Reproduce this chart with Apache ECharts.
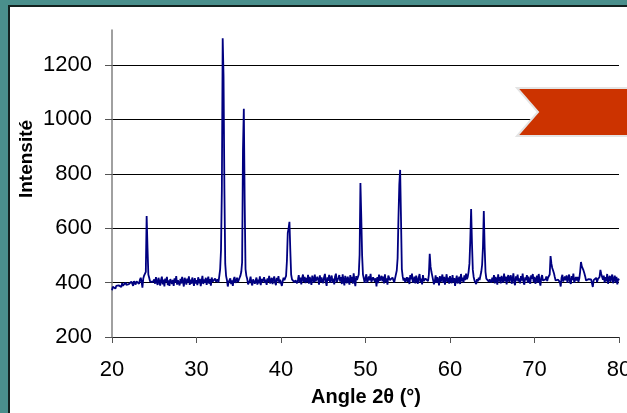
<!DOCTYPE html>
<html>
<head>
<meta charset="utf-8">
<script src="https://cdn.jsdelivr.net/npm/echarts@6/dist/echarts.min.js"></script>
<style>html,body{margin:0;padding:0;background:#4a8f8c;}#c{width:627px;height:413px;}</style>
</head>
<body>
<div id="c"></div>
<script>
// X-ray diffraction pattern: intensity recorded from 20° every 0.1° (2θ)
const startAngle = 20;
const stepAngle = 0.1;
const intensity = [
/*20*/ 372,385,380,392,378,388,395,383,390,386,
/*21*/ 393,384,398,389,396,385,400,392,387,399,
/*22*/ 395,402,391,404,397,388,406,399,393,405,
/*23*/ 398,407,396,410,418,404,382,415,426,422,
/*24*/ 440,645,530,430,418,405,398,412,402,395,
/*25*/ 412,396,420,401,392,418,405,389,410,422,
/*26*/ 394,411,386,415,402,421,391,408,388,413,
/*27*/ 419,395,410,388,416,400,424,393,409,398,
/*28*/ 390,414,397,421,403,386,418,406,393,415,
/*29*/ 400,423,392,411,396,419,404,388,417,397,
/*30*/ 409,391,420,398,414,387,406,425,395,412,
/*31*/ 400,418,392,409,422,396,413,389,419,404,
/*32*/ 409,397,415,404,398,412,401,425,450,520,
/*33*/ 740,1300,1160,750,470,425,410,386,402,395,
/*34*/ 416,395,408,388,412,421,399,393,418,402,
/*35*/ 409,418,426,440,475,890,1040,705,450,425,
/*36*/ 414,394,388,407,422,399,390,412,417,396,
/*37*/ 408,419,393,411,398,423,391,414,402,396,
/*38*/ 420,399,411,392,416,403,425,397,409,418,
/*39*/ 395,412,423,400,391,418,405,424,398,411,
/*40*/ 412,388,405,418,409,414,425,480,583,600,
/*41*/ 624,520,430,412,405,418,401,409,415,398,
/*42*/ 410,428,400,419,394,416,430,403,421,398,
/*43*/ 418,402,429,396,421,408,392,426,413,400,
/*44*/ 430,404,397,422,411,393,427,401,419,406,
/*45*/ 398,421,432,403,388,420,407,429,399,415,
/*46*/ 426,400,415,394,423,433,402,397,418,428,
/*47*/ 404,420,395,431,406,390,425,412,398,422,
/*48*/ 415,393,428,403,421,396,434,405,387,424,
/*49*/ 410,405,430,502,767,642,500,430,415,399,
/*50*/ 418,431,400,394,423,409,432,403,397,420,
/*51*/ 427,404,416,386,421,398,430,407,401,425,
/*52*/ 405,422,397,431,402,416,393,426,433,409,
/*53*/ 414,403,419,409,401,416,422,445,490,638,
/*54*/ 760,815,638,450,423,408,417,401,412,420,
/*55*/ 403,419,395,428,412,433,400,408,422,397,
/*56*/ 426,410,396,419,432,401,415,394,428,406,
/*57*/ 401,415,411,420,406,430,506,459,440,425,
/*58*/ 418,394,406,427,399,420,411,390,424,402,
/*59*/ 415,430,399,421,393,412,431,403,419,396,
/*60*/ 424,406,398,428,401,417,388,410,426,397,
/*61*/ 412,422,395,432,405,418,400,427,409,433,
/*62*/ 413,421,440,470,557,671,545,447,421,408,
/*63*/ 401,395,413,405,418,410,415,440,465,531,
/*64*/ 664,531,440,415,408,421,404,412,418,400,
/*65*/ 418,403,428,397,421,410,393,431,404,420,
/*66*/ 397,425,411,400,433,405,422,394,416,428,
/*67*/ 403,419,427,396,411,434,400,391,423,408,
/*68*/ 430,404,416,397,424,408,433,401,393,420,
/*69*/ 410,428,399,422,406,396,427,414,432,402,
/*70*/ 421,396,410,426,400,432,405,389,418,428,
/*71*/ 408,415,401,412,423,406,418,413,430,498,
/*72*/ 470,454,445,435,421,408,415,402,411,417,
/*73*/ 402,386,418,429,404,397,423,409,427,399,
/*74*/ 416,430,403,395,424,410,433,400,407,421,
/*75*/ 408,421,403,415,440,476,460,454,445,435,
/*76*/ 423,408,415,401,413,419,406,412,398,384,
/*77*/ 409,415,406,418,402,413,410,421,447,432,
/*78*/ 430,411,426,400,420,405,432,396,415,425,
/*79*/ 403,419,430,398,412,426,401,421,394,415,
/*80*/ 408
];
const xTicks = {min: 20, max: 80, interval: 10};
const yTicks = {min: 200, max: 1200, interval: 200};
const yAxisTop = 1330;
const xTitle = 'Angle 2θ (°)';
const yTitle = 'Intensité';

const seriesData = intensity.map((v, i) => [+(startAngle + i * stepAngle).toFixed(1), v]);

const FONT = '"Liberation Sans", Arial, sans-serif';
const chart = echarts.init(document.getElementById('c'), null, {renderer: 'canvas'});
chart.setOption({
  backgroundColor: '#4a8f8c',
  animation: false,
  grid: [
    {left: 112, right: 8, top: 30, bottom: 76, containLabel: false, outerBoundsMode: 'none'},
    {left: 112, right: 8, top: 65, bottom: 76, containLabel: false, outerBoundsMode: 'none'}
  ],
  xAxis: [
    {
      type: 'value', gridIndex: 0, min: xTicks.min, max: xTicks.max, interval: xTicks.interval,
      axisLine: {show: true, lineStyle: {color: '#222', width: 1}},
      axisTick: {show: true, inside: false, length: 6, lineStyle: {color: '#555'}},
      axisLabel: {color: '#000', fontFamily: FONT, fontSize: 22, margin: 22, formatter: v => String(v)},
      splitLine: {show: false}
    },
    {
      type: 'value', gridIndex: 1, min: xTicks.min, max: xTicks.max, show: false
    }
  ],
  yAxis: [
    {
      type: 'value', gridIndex: 0, min: yTicks.min, max: yAxisTop,
      axisLine: {show: true, lineStyle: {color: '#808080', width: 1.5}},
      axisTick: {show: false}, axisLabel: {show: false}, splitLine: {show: false}
    },
    {
      type: 'value', gridIndex: 1, min: yTicks.min, max: yTicks.max, interval: yTicks.interval,
      axisLine: {show: false},
      axisTick: {show: true, inside: false, length: 7, lineStyle: {color: '#555'}},
      axisLabel: {color: '#000', fontFamily: FONT, fontSize: 22, margin: 20, formatter: v => String(v)},
      splitLine: {show: true, lineStyle: {color: '#000', width: 1}}
    }
  ],
  series: [{
    type: 'line', xAxisIndex: 0, yAxisIndex: 0,
    data: seriesData, showSymbol: false, symbol: 'none',
    lineStyle: {color: '#000080', width: 1.8},
    z: 3
  }],
  graphic: [
    {type: 'rect', z: -100, shape: {x: 8, y: 5, width: 700, height: 500}, style: {fill: '#13211f'}},
    {type: 'rect', z: -99, shape: {x: 10, y: 7, width: 700, height: 500}, style: {fill: '#ffffff'}},
    {type: 'polygon', z: 100, shape: {points: [[517, 88], [640, 88], [640, 136], [517, 136], [538, 112]]},
      style: {fill: '#cc3300', stroke: '#e4e4e4', lineWidth: 2}},
    {type: 'text', z: 100, x: 366, y: 397, style: {text: xTitle, font: 'bold 20px ' + FONT, fill: '#000', align: 'center', verticalAlign: 'middle'}},
    {type: 'text', z: 100, x: 27, y: 159, rotation: Math.PI / 2, style: {text: yTitle, font: 'bold 19px ' + FONT, fill: '#000', align: 'center', verticalAlign: 'middle'}}
  ]
});
</script>
</body>
</html>
